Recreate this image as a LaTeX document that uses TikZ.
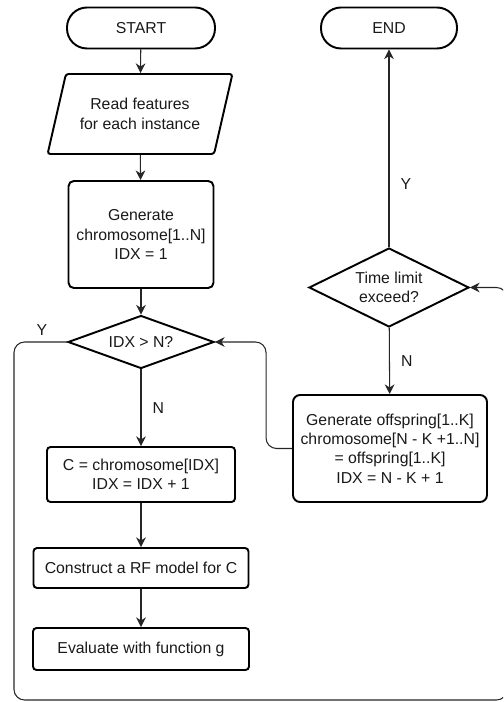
\documentclass[tikz,border=0pt]{standalone}
\usepackage{fontspec}
\setmainfont{Liberation Sans}
\usetikzlibrary{positioning,shapes.geometric,arrows.meta}

\begin{document}
\begin{tikzpicture}[node distance=5mm,
  every node/.style={font=\fontsize{9}{11}\selectfont, text=black!90},
  term/.style={draw, line width=1.1pt, rounded corners=4mm, minimum width=2.96cm, minimum height=0.82cm},
  io/.style={draw, line width=1.1pt, trapezium, trapezium left angle=69, trapezium right angle=111, rounded corners=1.5pt, minimum width=3.72cm, minimum height=1.6cm, trapezium stretches=true, align=center},
  proc/.style={draw, line width=1.1pt, rounded corners=2pt, align=center},
  cond/.style={draw, line width=1.1pt, diamond, inner sep=0pt, align=center},
  flow/.style={line width=0.6pt, black!85, -{Stealth[length=5.5pt, width=5.5pt]}},
  lbl/.style={font=\fontsize{9}{11}\selectfont}]
\useasboundingbox (0,0) rectangle (10.06,-14.04);
\clip (0,0) rectangle (10.06,-14.04);
% left column
\node[term] (start) at (2.82,-0.56) {START};
\node[io] (read) at (2.8,-2.28) {Read features\\ for each instance};
\node[proc, minimum width=2.9cm, minimum height=2.14cm, rounded corners=3pt] (gen) at (2.82,-4.69) {Generate\\ chromosome[1..N]\\ IDX = 1};
\node[cond, aspect=2.75, minimum width=2.92cm, minimum height=1.06cm] (idx) at (2.82,-6.84) {IDX > N?};
\node[proc, minimum width=3.76cm, minimum height=1.1cm] (cbox) at (2.82,-9.49) {C = chromosome[IDX]\\ IDX = IDX + 1};
\node[proc, minimum width=4.3cm, minimum height=0.8cm] (rf) at (2.82,-11.36) {Construct a RF model for C};
\node[proc, minimum width=4.32cm, minimum height=0.84cm] (evalg) at (2.82,-12.98) {Evaluate with function g};
% right column
\node[term, minimum width=2.72cm] (stop) at (7.78,-0.56) {END};
\node[cond, aspect=2.05, minimum width=3.2cm, minimum height=1.58cm] (tlim) at (7.78,-5.75) {Time limit\\ exceed?};
\node[proc, minimum width=3.88cm, minimum height=2.14cm, rounded corners=4pt] (offs) at (7.8,-8.97) {Generate offspring[1..K]\\ chromosome[N - K +1..N]\\ = offspring[1..K]\\ IDX = N - K + 1};
\coordinate (lb) at (0.28,-14.0);
\coordinate (rb) at (10.14,-14.0);
% connectors
\draw[flow] (start) -- (read);
\draw[flow] (read) -- (gen);
\draw[flow] (gen) -- (idx);
\draw[flow] (idx) -- node[lbl, right=3pt] {N} (cbox);
\draw[flow] (cbox) -- (rf);
\draw[flow] (rf) -- (evalg);
\draw[flow] (tlim) -- node[lbl, right=3pt, pos=0.32] {Y} (stop);
\draw[flow] (tlim) -- node[lbl, right=3pt] {N} (offs);
\draw[flow, rounded corners=6pt] (offs.west) -- ++(-0.52,0) |- (idx.east);
\draw[flow, rounded corners=6pt] (idx.west) -| (lb) -- (rb) |- (tlim.east);
\node[lbl] (ylbl) at (0.84,-6.6) {Y};
\end{tikzpicture}
\end{document}
